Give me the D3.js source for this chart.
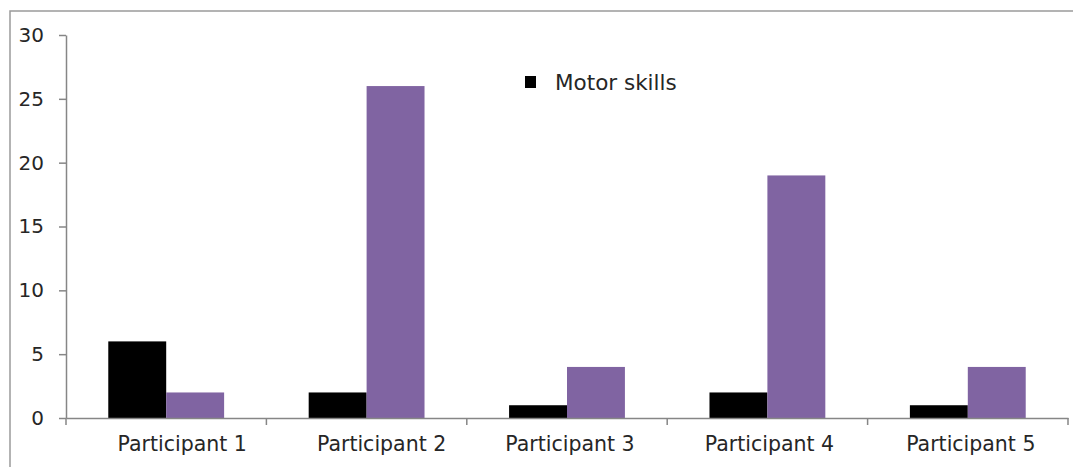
<!DOCTYPE html>
<html>
<head>
<meta charset="utf-8">
<script src="https://cdn.jsdelivr.net/npm/d3@7"></script>
<style>
  body { margin: 0; background: #fff; }
  svg text { font-family: "DejaVu Sans", sans-serif; fill: #262626; }
  .axis path, .axis line { stroke: #868686; stroke-width: 1.5; }
</style>
</head>
<body>
<div id="chart"></div>
<script>
// data
var participants = ["Participant 1", "Participant 2", "Participant 3", "Participant 4", "Participant 5"];
var motorSkills = [6, 2, 1, 2, 1];
var secondSeries = [2, 26, 4, 19, 4];
var seriesNames = ["Motor skills", "Series 2"];
var seriesColors = ["#000000", "#8064a2"];
var yTicks = [0, 5, 10, 15, 20, 25, 30];

var W = 1073, H = 467;
var margin = {top: 35, right: 5, bottom: 49, left: 66};

// the category labels sit a bit right of their bands in the original
var labelNudge = [16, 15, 3, 2, 3];

var svg = d3.select("#chart")
  .append("svg")
    .attr("width", W)
    .attr("height", H);

// chart area border (runs off right and bottom edge)
svg.append("rect")
  .attr("x", 10)
  .attr("y", 11)
  .attr("width", W + 20)
  .attr("height", H + 20)
  .attr("fill", "#fff")
  .attr("stroke", "#9a9a9a")
  .attr("stroke-width", 1.5);

// scales
var x = d3.scaleBand()
  .domain(participants)
  .range([margin.left, W - margin.right])
  .padding(0);

var xSub = d3.scaleBand()
  .domain(seriesNames)
  .range([0, x.bandwidth()])
  .paddingInner(0)
  .paddingOuter(0.73);

var y = d3.scaleLinear()
  .domain([0, 30])
  .range([H - margin.bottom, margin.top]);

// rows for grouped bars
var rows = participants.map(function(p, i) {
  return {name: p, values: [motorSkills[i], secondSeries[i]]};
});

// bars
var groups = svg.append("g")
  .selectAll("g")
  .data(rows)
  .join("g")
    .attr("transform", function(d) { return "translate(" + x(d.name) + ",0)"; });

groups.selectAll("rect")
  .data(function(d) {
    return d.values.map(function(v, j) { return {series: seriesNames[j], value: v, color: seriesColors[j]}; });
  })
  .join("rect")
    .attr("x", function(d) { return xSub(d.series); })
    .attr("width", xSub.bandwidth())
    .attr("y", function(d) { return y(d.value); })
    .attr("height", function(d) { return y(0) - y(d.value); })
    .attr("fill", function(d) { return d.color; });

// y axis
var yAxis = svg.append("g")
  .attr("class", "axis")
  .attr("transform", "translate(" + margin.left + ",0)")
  .call(d3.axisLeft(y).tickValues(yTicks).tickSize(7).tickSizeOuter(0).tickPadding(15));
yAxis.selectAll("text").attr("font-size", 20).style("font-family", "DejaVu Sans, sans-serif").attr("fill", "#262626");

// x axis: labels centred under bands, ticks on band edges
var xAxis = svg.append("g")
  .attr("class", "axis")
  .attr("transform", "translate(0," + y(0) + ")")
  .call(d3.axisBottom(x).tickSize(0).tickSizeOuter(0).tickPadding(18));
xAxis.selectAll("text")
  .attr("font-size", 20.5)
  .attr("dx", function(d, i) { return labelNudge[i]; })
  .style("font-family", "DejaVu Sans, sans-serif")
  .attr("fill", "#262626");

var edges = participants.map(function(p) { return x(p); }).concat([x.range()[1]]);
xAxis.selectAll("line.edge")
  .data(edges)
  .join("line")
    .attr("class", "edge")
    .attr("x1", function(d) { return d; })
    .attr("x2", function(d) { return d; })
    .attr("y1", 0)
    .attr("y2", 7);

// legend (only first entry is visible in the original)
var legend = svg.append("g")
  .attr("transform", "translate(525,76)");
legend.append("rect")
  .attr("width", 11)
  .attr("height", 12)
  .attr("fill", seriesColors[0]);
legend.append("text")
  .attr("x", 30)
  .attr("y", 6)
  .attr("dy", "0.35em")
  .attr("font-size", 21.5)
  .text(seriesNames[0]);
</script>
</body>
</html>
